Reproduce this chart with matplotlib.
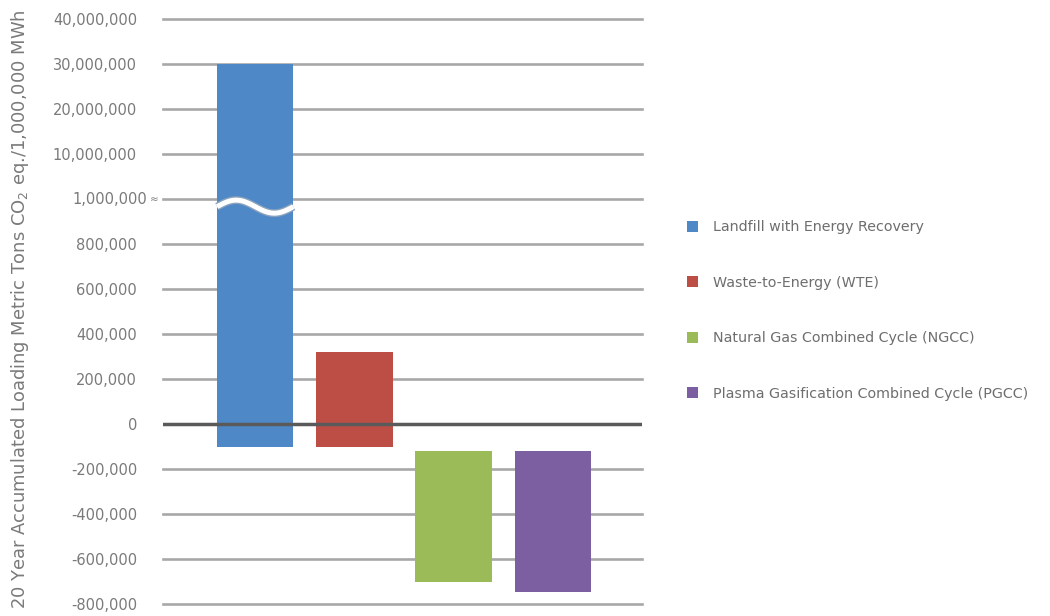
import numpy as np
import matplotlib
matplotlib.use("Agg")
import matplotlib.pyplot as plt
import matplotlib.transforms as mtransforms
from matplotlib.patches import Patch

# ---- data ----
categories = ["Landfill with Energy Recovery", "Waste-to-Energy (WTE)",
              "Natural Gas Combined Cycle (NGCC)", "Plasma Gasification Combined Cycle (PGCC)"]
bar_bottom = [-100000, -100000, -120000, -120000]
bar_top = [30000000, 320000, -700000, -745000]
colors = ["#4f88c6", "#bd4e46", "#9bbb59", "#7b5fa0"]
tick_values = [-800000, -600000, -400000, -200000, 0, 200000, 400000, 600000, 800000,
               1000000, 10000000, 20000000, 30000000, 40000000]
tick_labels = ["-800,000", "-600,000", "-400,000", "-200,000", "0", "200,000", "400,000",
               "600,000", "800,000", "1,000,000", "10,000,000", "20,000,000", "30,000,000",
               "40,000,000"]
ylabel = "20 Year Accumulated Loading Metric Tons CO$_2$ eq./1,000,000 MWh"


def fwd(v):
    v = np.asarray(v, dtype=float)
    return np.where(v <= 1e6, v / 2e5,
                    np.where(v <= 1e7, 5 + (v - 1e6) / 9e6, 6 + (v - 1e7) / 1e7))


def inv(p):
    p = np.asarray(p, dtype=float)
    return np.where(p <= 5, p * 2e5,
                    np.where(p <= 6, 1e6 + (p - 5) * 9e6, 1e7 + (p - 6) * 1e7))


fig = plt.figure(figsize=(10.5, 6.16), dpi=100)
ax = fig.add_axes([163 / 1050, 1 - 604 / 616, (642 - 163) / 1050, 585 / 616])
ax.set_yscale("function", functions=(fwd, inv))
ax.set_ylim(-800000, 40000000)
ax.set_xlim(-0.93, 3.90)

# grid lines
for v in tick_values:
    if v == 0:
        continue
    ax.axhline(v, color="#a8a8a8", lw=1.9, zorder=1, clip_on=False)
ax.axhline(0, color="#5a5a5a", lw=2.5, zorder=3)

x = np.arange(len(categories))
heights = [t - b for t, b in zip(bar_top, bar_bottom)]
bars = ax.bar(x, heights, bottom=bar_bottom, width=0.77, color=colors, zorder=2)

# break wave on first bar
t = np.linspace(0, 1, 200)
wx = -0.385 + 0.77 * t
wy = inv(4.83 + 0.145 * np.sin(2 * np.pi * t))
ax.plot(wx, wy, color="#8aa2bd", lw=5.6, zorder=4, solid_capstyle="butt")
ax.plot(wx, wy, color="white", lw=3.6, zorder=5, solid_capstyle="butt")

for s in ax.spines.values():
    s.set_visible(False)
ax.set_xticks([])
ax.set_yticks(tick_values)
labels = [("" if l == "1,000,000" else l) for l in tick_labels]
ax.set_yticklabels(labels, fontsize=10.5, color="#7a7a7a", family="DejaVu Sans")
ax.tick_params(axis="y", length=0, pad=18.7)

# special 1,000,000 label with approx sign
trans = mtransforms.blended_transform_factory(fig.transFigure, ax.transData)
ax.text(147 / 1050, 1000000, "1,000,000", transform=trans, fontsize=10.5, color="#7a7a7a",
        ha="right", va="center", family="DejaVu Sans", clip_on=False)
ax.text(150 / 1050, 1000000, "\u2248", transform=trans, fontsize=7.5, color="#7a7a7a",
        ha="left", va="center", family="DejaVu Sans", clip_on=False)

fig.text(20 / 1050, 1 - 309 / 616, ylabel, rotation=90, ha="center", va="center",
         fontsize=12.9, color="#7a7a7a", family="DejaVu Sans")

handles = [Patch(facecolor=c, edgecolor="none") for c in colors]
leg = fig.legend(handles, categories, loc="upper left", bbox_to_anchor=(687 / 1050, 1 - 220 / 616),
                 frameon=False, labelspacing=2.91, handlelength=0.8,
                 handleheight=0.8, handletextpad=1.0, borderaxespad=0, borderpad=0,
                 prop={"family": "DejaVu Sans", "size": 10.3})
for txt in leg.get_texts():
    txt.set_color("#6e6e6e")

fig.savefig("out.png", dpi=100)
